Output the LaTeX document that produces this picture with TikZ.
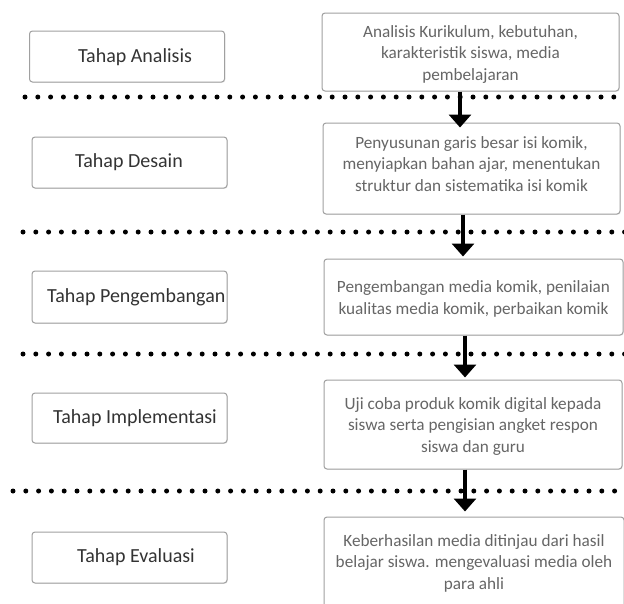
\documentclass[tikz,border=0pt]{standalone}
\usepackage{fontspec}
\setmainfont{Carlito}
\usetikzlibrary{arrows.meta,shadows}
\definecolor{boxline}{HTML}{A0A0A0}
\definecolor{lefttext}{HTML}{333333}
\definecolor{righttext}{HTML}{666666}
\tikzset{
  leftbox/.style={draw=boxline, line width=1pt, rounded corners=3pt, fill=white,
    inner sep=0pt, minimum width=195pt, minimum height=51pt,
    drop shadow={opacity=0.18, shadow xshift=0.8pt, shadow yshift=-0.8pt}},
  rightbox/.style={draw=boxline, line width=1pt, rounded corners=3pt, fill=white,
    inner sep=0pt, minimum width=297pt,
    drop shadow={opacity=0.15, shadow xshift=0.8pt, shadow yshift=-0.8pt}},
  lefttxt/.style={font=\fontsize{20}{22}\selectfont, text=lefttext, inner sep=0pt},
  righttxt/.style={font=\fontsize{17.2}{21.5}\selectfont, text=righttext, inner sep=0pt, align=center},
  dotline/.style={line width=5pt, line cap=round, dash pattern=on 0pt off 12.8pt},
  arr/.style={line width=4pt, -{Triangle[width=22pt,length=13pt]}},
}
\begin{document}
\begin{tikzpicture}[x=1pt,y=-1pt]
\useasboundingbox[fill=white] (0,0) rectangle (624,603);
% left boxes
\node[leftbox] (b1) at (127,56.5) {};
\node[leftbox] (b2) at (129.5,162.5) {};
\node[leftbox, minimum height=52pt] (b3) at (129.5,297) {};
\node[leftbox, minimum height=50pt] (b4) at (129.5,418) {};
\node[leftbox] (b5) at (129.5,557.5) {};
\node[lefttxt] (t1) at (135,57) {Tahap Analisis};
\node[lefttxt] (t2) at (129,162) {Tahap Desain};
\node[lefttxt, anchor=west] (t3) at (47,297) {Tahap Pengembangan};
\node[lefttxt] (t4) at (135,418) {Tahap Implementasi};
\node[lefttxt] (t5) at (136,557) {Tahap Evaluasi};
% right boxes
\node[rightbox, minimum height=78pt] (r1) at (470.5,52) {};
\node[rightbox, minimum height=91pt] (r2) at (471.5,168.5) {};
\node[rightbox, minimum height=76pt, minimum width=299pt] (r3) at (473.5,297) {};
\node[rightbox, minimum height=89pt, minimum width=298pt] (r4) at (473,424.5) {};
\node[rightbox, minimum height=95pt, minimum width=300pt] (r5) at (474,564.5) {};
\node[righttxt] (s1) at (470.5,54) {Analisis Kurikulum, kebutuhan,\\karakteristik siswa, media\\pembelajaran};
\node[righttxt] (s2) at (471.5,164) {Penyusunan garis besar isi komik,\\menyiapkan bahan ajar, menentukan\\struktur dan sistematika isi komik};
\node[righttxt] (s3) at (473.5,299) {Pengembangan media komik, penilaian\\kualitas media komik, perbaikan komik};
\node[righttxt] (s4) at (473,426) {Uji coba produk komik digital kepada\\siswa serta pengisian angket respon\\siswa dan guru};
\node[righttxt] (s5) at (474,563) {Keberhasilan media ditinjau dari hasil\\belajar siswa. mengevaluasi media oleh\\para ahli};
% dotted separators
\coordinate (d1a) at (25,97);  \coordinate (d1b) at (630,97);
\coordinate (d2a) at (23,232); \coordinate (d2b) at (630,232);
\coordinate (d3a) at (23,354); \coordinate (d3b) at (630,354);
\coordinate (d4a) at (13,491); \coordinate (d4b) at (630,491);
\draw[dotline] (d1a) -- (d1b);
\draw[dotline] (d2a) -- (d2b);
\draw[dotline] (d3a) -- (d3b);
\draw[dotline] (d4a) -- (d4b);
% arrows
\draw[arr, shorten >=-5pt] ([xshift=-10.5pt]r1.south) -- ([xshift=-10.5pt]r1.south |- r2.north);
\draw[arr, shorten >=2pt] ([xshift=-8.5pt]r2.south) -- ([xshift=-8.5pt]r2.south |- r3.north);
\draw[arr, shorten >=2pt] ([xshift=-8.5pt]r3.south) -- ([xshift=-8.5pt]r3.south |- r4.north);
\draw[arr, shorten >=5pt] ([xshift=-8pt]r4.south) -- ([xshift=-8pt]r4.south |- r5.north);
\end{tikzpicture}
\end{document}
